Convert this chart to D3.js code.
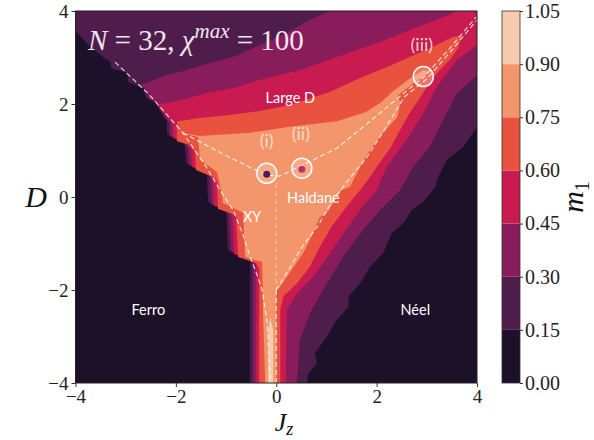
<!DOCTYPE html>
<html><head><meta charset="utf-8">
<script src="https://cdn.jsdelivr.net/npm/d3@7"></script>
<style>body{margin:0;background:#fff} svg{display:block}</style>
</head><body><svg id="c" width="594" height="440"></svg>
<script>
// ---- data (Jz, D) ----
const thresholds = [0, 0.15, 0.30, 0.45, 0.60, 0.75, 0.90, 1.05];
const colors = ["#1c1128", "#4f1d4b", "#891c5b", "#c91b4f", "#ea5240", "#f4966b", "#f6cbb0"];
const xTicks = [-4, -2, 0, 2, 4];
const yTicks = [-4, -2, 0, 2, 4];

const level015 = [[-4,4],[4,4],[4,1.51],[3.73,1.08],[3.40,0.80],[3.20,0.37],[3.18,0.22],[2.93,-0.10],[2.70,-0.28],[2.53,-0.57],[2.30,-0.78],[2.13,-1.21],[1.87,-1.50],[1.67,-1.86],[1.44,-2.14],[1.44,-2.36],[1.20,-2.65],[1.01,-3.00],[0.77,-3.36],[0.81,-3.58],[0.64,-3.79],[0.61,-4],[-0.52,-4],[-0.52,-1.40],[-0.58,-1.27],[-0.96,-1.14],[-1.00,-0.24],[-1.36,-0.11],[-1.38,0.47],[-1.46,0.58],[-1.80,0.73],[-1.82,1.10],[-1.92,1.27],[-2.18,1.35],[-2.18,1.63],[-2.28,1.78],[-2.40,2.04],[-2.60,2.15],[-2.65,2.34],[-2.95,2.47],[-2.97,2.67],[-3.29,2.77],[-3.31,2.92],[-3.43,2.99],[-3.71,3.23],[-4,3.57]];
const level030 = [[-2.71,2.41],[-2.18,2.62],[-1.78,2.73],[-1.32,2.88],[-0.86,3.01],[-0.32,3.27],[0.21,3.53],[0.67,3.81],[1.07,4],[4,4],[4,2.62],[3.60,2.23],[3.26,1.51],[3.06,1.08],[2.73,0.65],[2.47,0.15],[2.07,-0.28],[1.67,-0.78],[1.34,-1.28],[1.01,-1.86],[0.67,-2.50],[0.47,-3.08],[0.41,-4],[-0.46,-4],[-0.46,-1.44],[-0.52,-1.31],[-0.90,-1.18],[-0.94,-0.28],[-1.30,-0.15],[-1.32,0.43],[-1.40,0.54],[-1.74,0.69],[-1.76,1.05],[-1.86,1.23],[-2.12,1.31],[-2.12,1.59],[-2.22,1.74],[-2.34,2.00],[-2.54,2.11],[-2.60,2.30]];
const level045 = [[-2.38,1.98],[-1.86,2.09],[-1.38,2.24],[-0.86,2.34],[-0.32,2.52],[0.47,2.73],[1.21,3.01],[2.01,3.31],[2.66,3.59],[3.40,3.89],[3.62,4],[4,4],[4,3.27],[3.60,2.95],[3.20,2.37],[2.93,1.80],[2.60,1.23],[2.20,0.65],[2.00,0.15],[1.67,-0.28],[1.34,-0.78],[1.07,-1.21],[0.74,-1.71],[0.41,-2.07],[0.21,-2.43],[0.19,-4],[-0.40,-4],[-0.40,-1.48],[-0.46,-1.35],[-0.84,-1.23],[-0.88,-0.32],[-1.24,-0.19],[-1.26,0.39],[-1.34,0.49],[-1.68,0.65],[-1.70,1.01],[-1.80,1.18],[-2.06,1.27],[-2.06,1.55],[-2.16,1.70]];
const level060 = [[-1.96,1.63],[-1.52,1.70],[-0.98,1.76],[-0.32,1.85],[0.27,1.98],[1.07,2.26],[1.67,2.56],[2.27,2.82],[2.66,3.01],[3.16,3.25],[3.52,3.44],[3.70,3.48],[3.62,3.20],[3.46,2.95],[3.26,2.73],[3.06,2.47],[2.86,2.13],[2.66,1.81],[2.47,1.44],[2.27,1.05],[2.03,0.69],[1.83,0.37],[1.67,0.15],[1.40,-0.21],[1.10,-0.64],[0.87,-1.07],[0.67,-1.50],[0.41,-1.86],[0.14,-2.14],[0.08,-2.43],[0.08,-4],[-0.34,-4],[-0.34,-1.55],[-0.40,-1.42],[-0.76,-1.29],[-0.80,-0.39],[-1.16,-0.26],[-1.18,0.32],[-1.26,0.43],[-1.60,0.58],[-1.62,0.95],[-1.72,1.12],[-1.98,1.20],[-1.98,1.56]];
const level075 = [[-1.90,1.38],[-1.52,1.31],[-0.52,1.38],[0.27,1.51],[1.21,1.63],[1.79,1.83],[2.07,2.02],[2.31,2.26],[2.63,2.52],[2.94,2.73],[3.06,2.69],[2.76,2.47],[2.43,2.19],[2.47,2.02],[2.41,1.72],[2.13,1.38],[1.87,1.01],[1.67,0.65],[1.47,0.22],[1.31,0.15],[1.01,-0.34],[0.87,-0.43],[0.74,-0.77],[0.54,-1.20],[0.34,-1.51],[0.07,-1.94],[0.00,-2.00],[0.00,-4],[-0.22,-4],[-0.26,-2.58],[-0.28,-1.40],[-0.62,-1.29],[-0.66,-0.34],[-1.06,-0.13],[-1.10,0.15],[-1.18,0.54],[-1.52,0.80],[-1.56,1.29]];
const level090 = [[-0.16,-4],[-0.16,-2.86],[-0.12,-2.60],[-0.06,-2.86],[-0.06,-4]];
const levelPolys = [level015, level030, level045, level060, level075, level090];

// phase boundaries (dashed)
const lineA = [[-3.21,2.90],[-2.52,2.19],[-1.86,1.38],[-1.42,0.69],[-1.12,0.15],[-0.86,-0.28],[-0.66,-0.82],[-0.52,-1.29],[-0.38,-1.68],[-0.28,-2.00],[-0.18,-2.71],[-0.12,-4]];
const lineB = [[-1.86,1.38],[-1.02,0.90],[-0.20,0.47],[0.07,0.45],[0.49,0.67],[1.21,1.05],[1.87,1.63],[2.47,2.17],[2.94,2.58],[3.46,3.20],[3.98,3.87]];
const lineC = [[0.00,-2.00],[0.27,-1.53],[0.47,-1.14],[0.83,-0.62],[1.13,-0.06],[1.47,0.41],[1.81,0.86],[2.13,1.40],[2.55,2.15],[3.00,2.54],[3.50,3.16],[4.0,3.81]];
const lineVUpper = [[0,0.30],[0,-2.00]];
const lineVLower = [[0,-2.00],[0,-4]];

const points = [
  {name:"(i)", jz:-0.19, d:0.51, dot:"#4a2050", lx:-0.19, ly:1.08},
  {name:"(ii)", jz:0.51, d:0.62, dot:"#b8336a", lx:0.49, ly:1.22},
  {name:"(iii)", jz:2.93, d:2.59, dot:null, lx:2.90, ly:3.15}
];
const phaseLabels = [
  {t:"Large D", jz:0.28, d:2.15},
  {t:"Haldane", jz:0.74, d:0.0},
  {t:"XY", jz:-0.48, d:-0.42},
  {t:"Ferro", jz:-2.55, d:-2.42},
  {t:"Néel", jz:2.77, d:-2.42}
];

// ---- drawing ----
const svg = d3.select("#c");
const x = d3.scaleLinear([-4, 4], [75.5, 477]);
const y = d3.scaleLinear([-4, 4], [383, 11]);
const cy = d3.scaleLinear([0, 1.05], [383, 11]);
const serif = "'Liberation Serif', 'DejaVu Serif', serif";
const sans = "Lato, 'Open Sans', sans-serif";

svg.append("clipPath").attr("id","clip").append("rect")
  .attr("x", x(-4)).attr("y", y(4)).attr("width", x(4)-x(-4)).attr("height", y(-4)-y(4));
const g = svg.append("g").attr("clip-path","url(#clip)");
g.append("rect").attr("x", x(-4)).attr("y", y(4)).attr("width", x(4)-x(-4)).attr("height", y(-4)-y(4))
  .attr("fill", colors[0]);
const line = d3.line().x(p => x(p[0])).y(p => y(p[1]));
levelPolys.forEach((poly, i) => {
  g.append("path").attr("d", line(poly) + "Z").attr("fill", colors[i+1]);
});

// dashed lines
[lineA, lineB, lineC, lineVLower].forEach(l => {
  g.append("path").attr("d", line(l)).attr("fill","none").attr("stroke","#ffffff")
    .attr("stroke-opacity",0.85).attr("stroke-width",1.1).attr("stroke-dasharray","5,3");
});
g.append("path").attr("d", line(lineVUpper)).attr("fill","none").attr("stroke","#ffffff")
  .attr("stroke-opacity",0.45).attr("stroke-width",1.1).attr("stroke-dasharray","5,3");

// points
points.forEach(p => {
  g.append("circle").attr("cx", x(p.jz)).attr("cy", y(p.d)).attr("r", 10)
    .attr("fill","#ffffff").attr("fill-opacity",0.2).attr("stroke","#ffffff").attr("stroke-width",1.5);
  if (p.dot) g.append("circle").attr("cx", x(p.jz)).attr("cy", y(p.d)+1).attr("r", 3.5).attr("fill", p.dot);
  svg.append("text").attr("x", x(p.lx)).attr("y", y(p.ly)).attr("text-anchor","middle")
    .attr("font-family", sans).attr("font-size",18).attr("fill","#f8e3da").attr("fill-opacity",0.9).text(p.name);
});

phaseLabels.forEach(l => {
  svg.append("text").attr("x", x(l.jz)).attr("y", y(l.d)).attr("text-anchor","middle")
    .attr("dominant-baseline","central")
    .attr("font-family", sans).attr("font-size",14.5).attr("fill","#ffffff").text(l.t);
});

// title
const title = svg.append("text").attr("x", 88).attr("y", 50).attr("font-family", serif)
  .attr("font-size", 29).attr("fill","#efe6ee");
title.append("tspan").attr("font-style","italic").text("N");
title.append("tspan").text(" = 32, ");
title.append("tspan").attr("font-style","italic").text("χ");
title.append("tspan").attr("font-style","italic").attr("font-size",21).attr("dy",-12).text("max");
title.append("tspan").attr("dy",12).text(" = 100");

// frame
svg.append("rect").attr("x", x(-4)).attr("y", y(4)).attr("width", x(4)-x(-4)).attr("height", y(-4)-y(4))
  .attr("fill","none").attr("stroke","#222").attr("stroke-width",1);

// axes
const fmt = d => d < 0 ? "\u2212" + (-d) : String(d);
const xa = svg.append("g").attr("transform", `translate(0,${y(-4)})`)
  .call(d3.axisBottom(x).tickValues(xTicks).tickSize(4).tickPadding(3).tickFormat(fmt));
const ya = svg.append("g").attr("transform", `translate(${x(-4)},0)`)
  .call(d3.axisLeft(y).tickValues(yTicks).tickSize(4).tickPadding(3).tickFormat(fmt));
[xa, ya].forEach(a => {
  a.select(".domain").remove();
  a.selectAll("text").attr("font-family", serif).attr("font-size", 19).attr("fill","#222");
  a.selectAll("line").attr("stroke","#333");
});

// axis labels
const xl = svg.append("text").attr("x", 284).attr("y", 431).attr("text-anchor","middle")
  .attr("font-family", serif).attr("font-size", 26).attr("fill","#111");
xl.append("tspan").attr("font-style","italic").text("J");
xl.append("tspan").attr("font-style","italic").attr("font-size",18).attr("dy",4).text("z");
svg.append("text").attr("x", 36).attr("y", 207).attr("text-anchor","middle")
  .attr("font-family", serif).attr("font-style","italic").attr("font-size", 30).attr("fill","#111").text("D");

// colorbar
const cb = svg.append("g");
for (let i = 0; i < colors.length; i++) {
  cb.append("rect").attr("x", 502).attr("width", 18)
    .attr("y", cy(thresholds[i+1])).attr("height", cy(thresholds[i]) - cy(thresholds[i+1]))
    .attr("fill", colors[i]);
}
cb.append("rect").attr("x", 502).attr("width", 18).attr("y", cy(1.05)).attr("height", cy(0)-cy(1.05))
  .attr("fill","none").attr("stroke","#333").attr("stroke-width",0.8);
const ca = svg.append("g").attr("transform","translate(520,0)")
  .call(d3.axisRight(cy).tickValues(thresholds).tickSize(3).tickPadding(2).tickFormat(d3.format(".2f")));
ca.select(".domain").remove();
ca.selectAll("text").attr("font-family", serif).attr("font-size", 20).attr("fill","#222");
ca.selectAll("line").attr("stroke","#333");
const ml = svg.append("text").attr("transform","translate(583,197) rotate(-90)").attr("text-anchor","middle")
  .attr("font-family", serif).attr("font-size", 30).attr("fill","#111");
ml.append("tspan").attr("font-style","italic").text("m");
ml.append("tspan").attr("font-size",20).attr("dy",6).text("1");
</script></body></html>
